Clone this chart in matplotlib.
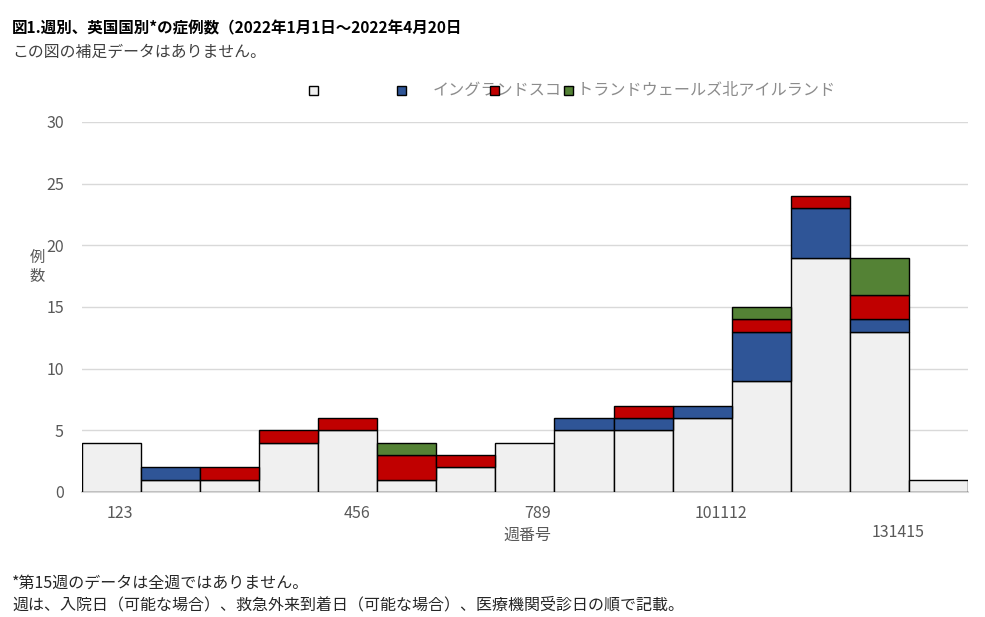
import matplotlib
matplotlib.use("Agg")
import matplotlib.pyplot as plt
from matplotlib.patches import Rectangle

plt.rcParams['font.family'] = ['Noto Sans CJK JP', 'DejaVu Sans']

weeks = list(range(1, 16))
england = [4, 1, 1, 4, 5, 1, 2, 4, 5, 5, 6, 9, 19, 13, 1]
scotland = [0, 1, 0, 0, 0, 0, 0, 0, 1, 1, 1, 4, 4, 1, 0]
wales = [0, 0, 1, 1, 1, 2, 1, 0, 0, 1, 0, 1, 1, 2, 0]
n_ireland = [0, 0, 0, 0, 0, 1, 0, 0, 0, 0, 0, 1, 0, 3, 0]
series = [england, scotland, wales, n_ireland]
colors = ['#f0f0f0', '#2f5597', '#c00000', '#548235']
legend_text = 'イングランドスコットランドウェールズ北アイルランド'
# odd grouped tick labels as shown in the reference
tick_pos = [1.14, 5.16, 8.21, 11.31, 14.31]
tick_labels = ['123', '456', '789', '101112', '131415']

fig = plt.figure(figsize=(9.85, 6.17), dpi=100)
ax = fig.add_axes([0.0832, 0.2026, 0.8995, 0.5997])

bottom = [0] * len(weeks)
for vals, c in zip(series, colors):
    # skip empty segments so they don't draw stray edges
    xs = [w for w, v in zip(weeks, vals) if v > 0]
    hs = [v for v in vals if v > 0]
    bs = [b for b, v in zip(bottom, vals) if v > 0]
    ax.bar(xs, hs, width=1.0, bottom=bs, color=c,
           edgecolor='black', linewidth=1.0, zorder=3)
    bottom = [b + v for b, v in zip(bottom, vals)]

ax.set_xlim(0.5, 15.5)
ax.set_ylim(0, 30)
ax.set_yticks([0, 5, 10, 15, 20, 25, 30])
ax.yaxis.grid(True, color='#d9d9d9', linewidth=1.0, zorder=0)
for ln in ax.get_ygridlines():
    if abs(ln.get_ydata()[0] - 15) < 1e-6:
        ln.set_linewidth(1.8)
ax.tick_params(axis='y', length=0, labelsize=11.5, labelcolor='#595959', pad=13)
ax.set_xticks([])
for s in ['top', 'right', 'left']:
    ax.spines[s].set_visible(False)
ax.spines['bottom'].set_color('#d9d9d9')
ax.spines['bottom'].set_linewidth(1.5)

for i, (p, lab) in enumerate(zip(tick_pos, tick_labels)):
    dy = -0.086 if i == 4 else -0.034
    ax.text(p, dy, lab, transform=ax.get_xaxis_transform(), ha='center',
            va='top', fontsize=11.5, color='#595959')

# legend drawn by hand: markers overlap the text in the original
ax_leg = fig.add_axes([0, 0, 1, 1], facecolor='none')
ax_leg.set_axis_off()
ax_leg.set_xlim(0, 985)
ax_leg.set_ylim(617, 0)
for mx, c in zip([313, 401, 494, 568], colors):
    ax_leg.add_patch(Rectangle((mx - 4.5, 86), 9, 9, facecolor=c,
                               edgecolor='black', linewidth=1.0, zorder=5))
ax_leg.text(433, 90.5, legend_text, ha='left', va='center', fontsize=11.6,
            color='#8c8c8c', zorder=4)

fig.text(12 / 985, 1 - 28 / 617, '図1.週別、英国国別*の症例数（2022年1月1日～2022年4月20日',
         fontsize=11.2, fontweight='bold', va='center', ha='left', color='black')
fig.text(12 / 985, 1 - 52 / 617, 'この図の補足データはありません。',
         fontsize=11.4, va='center', ha='left', color='#404040')
fig.text(37 / 985, 1 - 267 / 617, '例\n数', fontsize=11, va='center',
         ha='center', color='#595959', linespacing=1.2)
fig.text(527 / 985, 1 - 535 / 617, '週番号', fontsize=11.5, va='center',
         ha='center', color='#595959')
fig.text(12 / 985, 1 - 583 / 617, '*第15週のデータは全週ではありません。',
         fontsize=11.5, va='center', ha='left', color='#262626')
fig.text(12 / 985, 1 - 605 / 617,
         '週は、入院日（可能な場合）、救急外来到着日（可能な場合）、医療機関受診日の順で記載。',
         fontsize=11.5, va='center', ha='left', color='#262626')

fig.savefig('out.png', dpi=100)
